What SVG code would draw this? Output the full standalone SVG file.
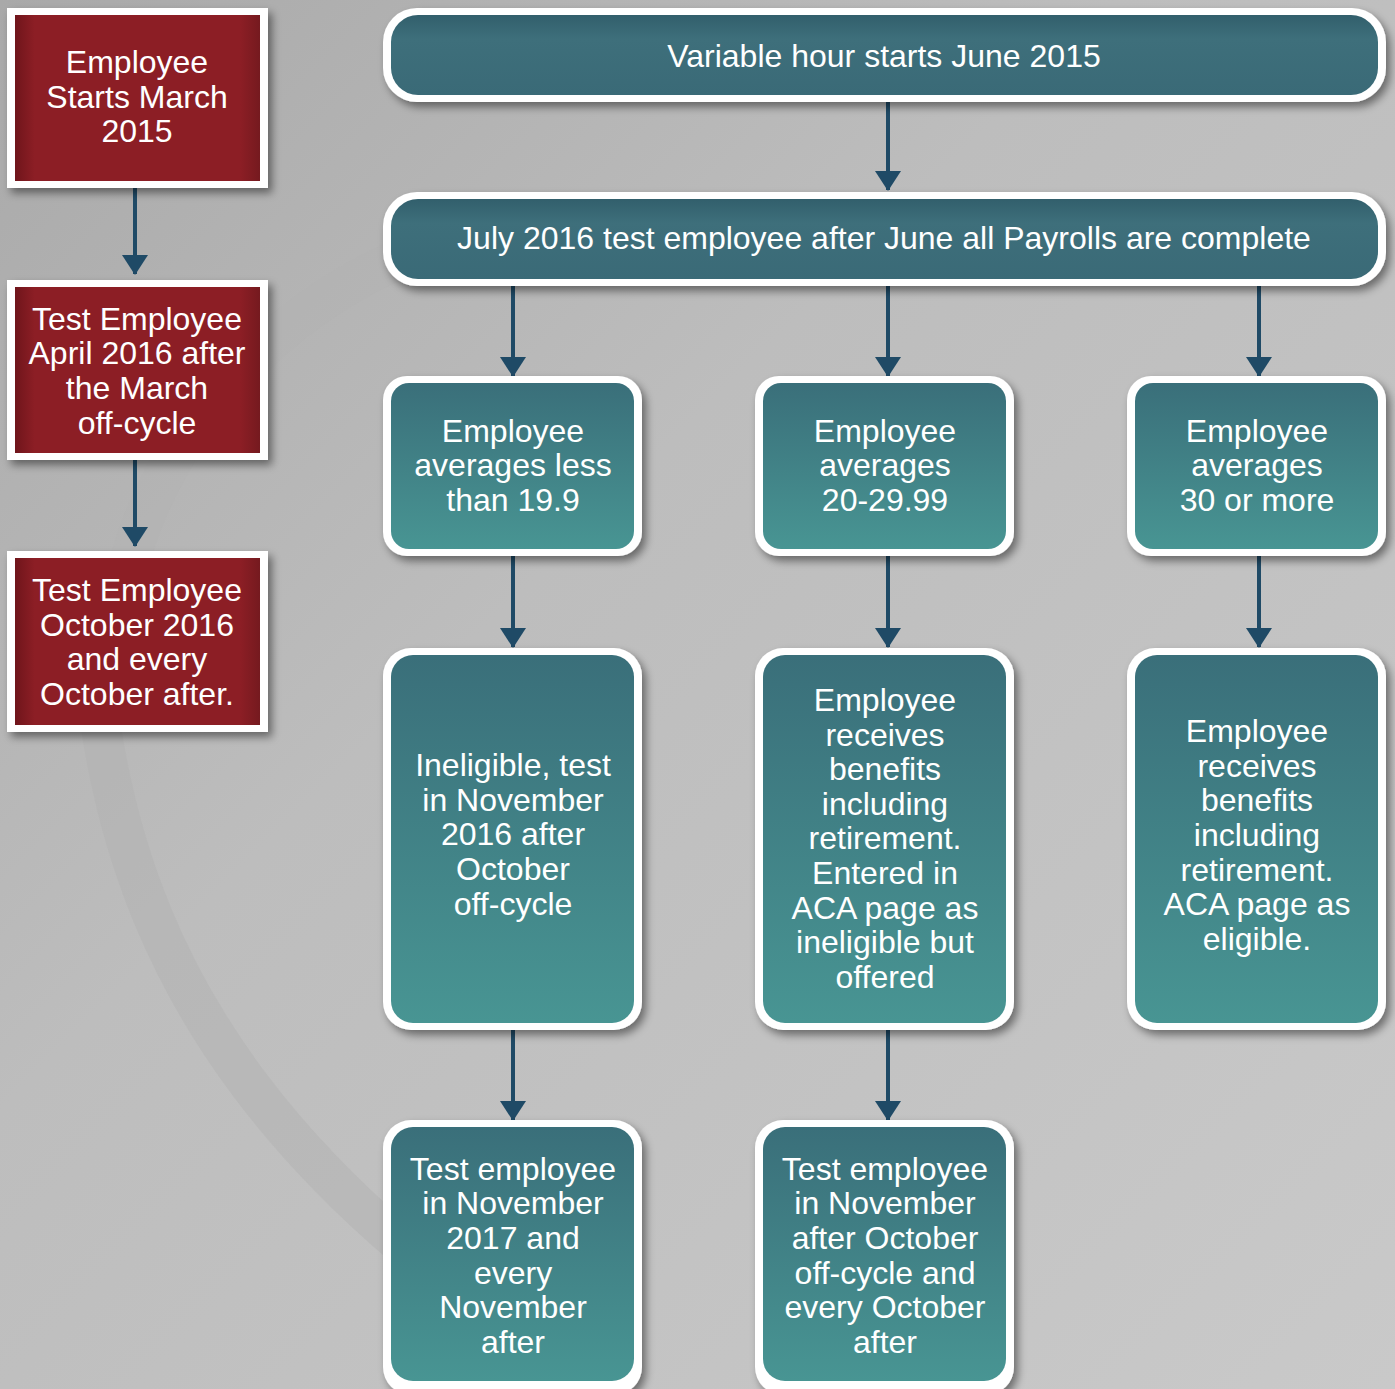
<svg xmlns="http://www.w3.org/2000/svg" width="1395" height="1389" viewBox="0 0 1395 1389">
<defs>
<linearGradient id="bg" x1="0" y1="0" x2="1" y2="1">
<stop offset="0" stop-color="#a9a9a9"/>
<stop offset="0.4" stop-color="#bdbdbd"/>
<stop offset="1" stop-color="#c9c9c9"/>
</linearGradient>
<linearGradient id="teal" x1="0" y1="0" x2="0" y2="1">
<stop offset="0" stop-color="#3a6f7a"/>
<stop offset="1" stop-color="#489593"/>
</linearGradient>
<linearGradient id="bar" x1="0" y1="0" x2="0" y2="1">
<stop offset="0" stop-color="#325f6c"/>
<stop offset="0.3" stop-color="#3e6f7b"/>
<stop offset="1" stop-color="#3a6a77"/>
</linearGradient>
<linearGradient id="red" x1="0" y1="0" x2="1" y2="0">
<stop offset="0" stop-color="#6f151b"/>
<stop offset="0.08" stop-color="#8c1e25"/>
<stop offset="0.92" stop-color="#8c1e25"/>
<stop offset="1" stop-color="#751a1f"/>
</linearGradient>
<filter id="sh" x="-10%" y="-10%" width="125%" height="130%">
<feDropShadow dx="4" dy="5" stdDeviation="4" flood-color="#000" flood-opacity="0.45"/>
</filter>
<marker id="ah" viewBox="0 0 20 26" refX="19" refY="13" markerWidth="20" markerHeight="26" markerUnits="userSpaceOnUse" orient="auto">
<path d="M0,0 L20,13 L0,26 Z" fill="#1f4a66"/>
</marker>
<style>
text{font-family:"Liberation Sans",Arial,sans-serif;font-size:32px;fill:#ffffff;text-anchor:middle}
.w{fill:#ffffff}
.c{stroke:#1f4a66;stroke-width:4;fill:none}
</style>
</defs>
<rect width="1395" height="1389" fill="url(#bg)"/>
<g fill="none" stroke="#b2b2b2" stroke-opacity="0.55" stroke-width="40">
<path d="M100,720 C140,1000 300,1200 600,1389"/>
<path d="M560,220 C360,230 180,380 130,560"/>
</g>
<g id="connectors">
<line class="c" x1="135" y1="188" x2="135" y2="274" marker-end="url(#ah)"/>
<line class="c" x1="135" y1="460" x2="135" y2="546" marker-end="url(#ah)"/>
<line class="c" x1="888" y1="102" x2="888" y2="190" marker-end="url(#ah)"/>
<line class="c" x1="513" y1="286" x2="513" y2="376" marker-end="url(#ah)"/>
<line class="c" x1="888" y1="286" x2="888" y2="376" marker-end="url(#ah)"/>
<line class="c" x1="1259" y1="286" x2="1259" y2="376" marker-end="url(#ah)"/>
<line class="c" x1="513" y1="556" x2="513" y2="647" marker-end="url(#ah)"/>
<line class="c" x1="888" y1="556" x2="888" y2="647" marker-end="url(#ah)"/>
<line class="c" x1="1259" y1="556" x2="1259" y2="647" marker-end="url(#ah)"/>
<line class="c" x1="513" y1="1030" x2="513" y2="1120" marker-end="url(#ah)"/>
<line class="c" x1="888" y1="1030" x2="888" y2="1120" marker-end="url(#ah)"/>
</g>
<g id="red1">
<rect class="w" x="7" y="8" width="261" height="180" filter="url(#sh)"/>
<rect x="15" y="15" width="245" height="166" fill="url(#red)"/>
<text x="137" y="73">Employee</text>
<text x="137" y="108">Starts March</text>
<text x="137" y="142">2015</text>
</g>
<g id="red2">
<rect class="w" x="7" y="280" width="261" height="180" filter="url(#sh)"/>
<rect x="15" y="287" width="245" height="166" fill="url(#red)"/>
<text x="137" y="330">Test Employee</text>
<text x="137" y="364">April 2016 after</text>
<text x="137" y="399">the March</text>
<text x="137" y="434">off-cycle</text>
</g>
<g id="red3">
<rect class="w" x="7" y="551" width="261" height="181" filter="url(#sh)"/>
<rect x="15" y="558" width="245" height="167" fill="url(#red)"/>
<text x="137" y="601">Test Employee</text>
<text x="137" y="636">October 2016</text>
<text x="137" y="670">and every</text>
<text x="137" y="705">October after.</text>
</g>
<g id="top">
<rect class="w" x="383" y="8" width="1003" height="94" rx="34" filter="url(#sh)"/>
<rect x="391" y="15" width="987" height="80" rx="27" fill="url(#bar)"/>
<text x="884" y="67">Variable hour starts June 2015</text>
</g>
<g id="test">
<rect class="w" x="383" y="192" width="1003" height="94" rx="34" filter="url(#sh)"/>
<rect x="391" y="199" width="987" height="80" rx="27" fill="url(#bar)"/>
<text x="884" y="249">July 2016 test employee after June all Payrolls are complete</text>
</g>
<g id="less">
<rect class="w" x="383" y="376" width="259" height="180" rx="24" filter="url(#sh)"/>
<rect x="391" y="383" width="243" height="166" rx="18" fill="url(#teal)"/>
<text x="513" y="442">Employee</text>
<text x="513" y="476">averages less</text>
<text x="513" y="511">than 19.9</text>
</g>
<g id="mid">
<rect class="w" x="755" y="376" width="259" height="180" rx="24" filter="url(#sh)"/>
<rect x="763" y="383" width="243" height="166" rx="18" fill="url(#teal)"/>
<text x="885" y="442">Employee</text>
<text x="885" y="476">averages</text>
<text x="885" y="511">20-29.99</text>
</g>
<g id="more">
<rect class="w" x="1127" y="376" width="259" height="180" rx="24" filter="url(#sh)"/>
<rect x="1135" y="383" width="243" height="166" rx="18" fill="url(#teal)"/>
<text x="1257" y="442">Employee</text>
<text x="1257" y="476">averages</text>
<text x="1257" y="511">30 or more</text>
</g>
<g id="inel">
<rect class="w" x="383" y="648" width="259" height="382" rx="28" filter="url(#sh)"/>
<rect x="391" y="655" width="243" height="368" rx="22" fill="url(#teal)"/>
<text x="513" y="776">Ineligible, test</text>
<text x="513" y="811">in November</text>
<text x="513" y="845">2016 after</text>
<text x="513" y="880">October</text>
<text x="513" y="915">off-cycle</text>
</g>
<g id="offered">
<rect class="w" x="755" y="648" width="259" height="382" rx="28" filter="url(#sh)"/>
<rect x="763" y="655" width="243" height="368" rx="22" fill="url(#teal)"/>
<text x="885" y="711">Employee</text>
<text x="885" y="746">receives</text>
<text x="885" y="780">benefits</text>
<text x="885" y="815">including</text>
<text x="885" y="849">retirement.</text>
<text x="885" y="884">Entered in</text>
<text x="885" y="919">ACA page as</text>
<text x="885" y="953">ineligible but</text>
<text x="885" y="988">offered</text>
</g>
<g id="eligible">
<rect class="w" x="1127" y="648" width="259" height="382" rx="28" filter="url(#sh)"/>
<rect x="1135" y="655" width="243" height="368" rx="22" fill="url(#teal)"/>
<text x="1257" y="742">Employee</text>
<text x="1257" y="777">receives</text>
<text x="1257" y="811">benefits</text>
<text x="1257" y="846">including</text>
<text x="1257" y="881">retirement.</text>
<text x="1257" y="915">ACA page as</text>
<text x="1257" y="950">eligible.</text>
</g>
<g id="nov">
<rect class="w" x="383" y="1120" width="259" height="275" rx="28" filter="url(#sh)"/>
<rect x="391" y="1127" width="243" height="254" rx="22" fill="url(#teal)"/>
<text x="513" y="1180">Test employee</text>
<text x="513" y="1214">in November</text>
<text x="513" y="1249">2017 and</text>
<text x="513" y="1284">every</text>
<text x="513" y="1318">November</text>
<text x="513" y="1353">after</text>
</g>
<g id="oct">
<rect class="w" x="755" y="1120" width="259" height="275" rx="28" filter="url(#sh)"/>
<rect x="763" y="1127" width="243" height="254" rx="22" fill="url(#teal)"/>
<text x="885" y="1180">Test employee</text>
<text x="885" y="1214">in November</text>
<text x="885" y="1249">after October</text>
<text x="885" y="1284">off-cycle and</text>
<text x="885" y="1318">every October</text>
<text x="885" y="1353">after</text>
</g>
</svg>
